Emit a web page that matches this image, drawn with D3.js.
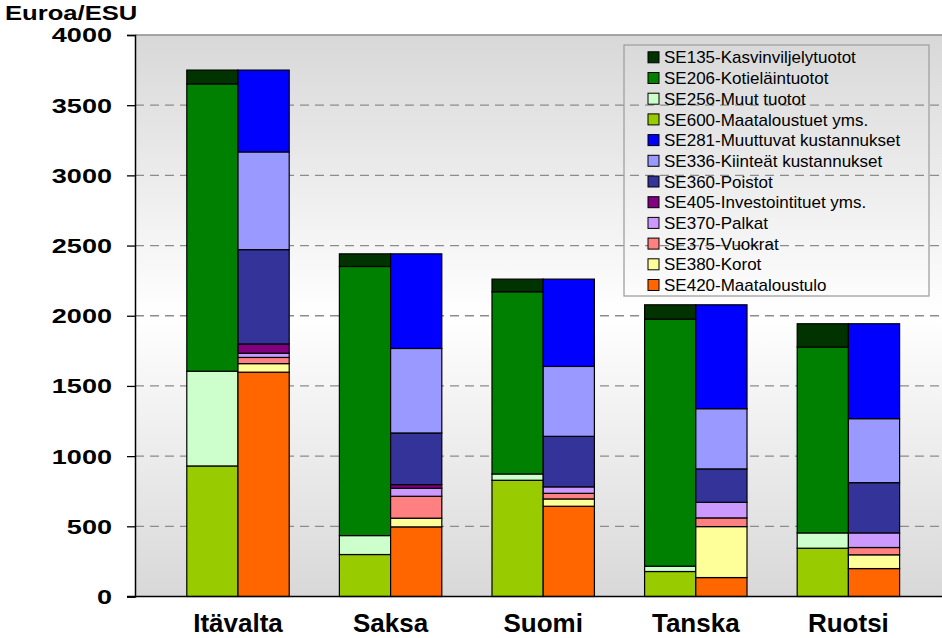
<!DOCTYPE html>
<html>
<head>
<meta charset="utf-8">
<script src="https://cdn.jsdelivr.net/npm/d3@7"></script>
<style>
  body { margin: 0; background: #fff; }
  svg { display: block; font-family: "Liberation Sans", Arial, sans-serif; }
</style>
</head>
<body>
<svg id="chart" width="942" height="638"></svg>
<script>
// categories
var countries = ['Itävalta', 'Saksa', 'Suomi', 'Tanska', 'Ruotsi'];
var yTicks = [0, 500, 1000, 1500, 2000, 2500, 3000, 3500, 4000];

// left column (tulot), bottom to top
var SE600 = [930, 299, 828, 178, 344];
var SE256 = [675, 135, 45, 38, 109];
var SE206 = [2047, 1917, 1298, 1760, 1324];
var SE135 = [98, 90, 90, 102, 166];

// right column (kulut + tulo), bottom to top
var SE420 = [1598, 496, 643, 135, 199];
var SE380 = [61, 62, 52, 363, 98];
var SE375 = [44, 156, 40, 62, 52];
var SE370 = [30, 57, 46, 111, 104];
var SE405 = [66, 26, 0, 0, 0];
var SE360 = [672, 368, 360, 238, 358];
var SE336 = [696, 602, 498, 429, 456];
var SE281 = [583, 674, 622, 740, 676];

var series = [
    {key: 'SE135', name: 'SE135-Kasvinviljelytuotot', color: '#003300', side: 'left', values: SE135},
    {key: 'SE206', name: 'SE206-Kotieläintuotot', color: '#008000', side: 'left', values: SE206},
    {key: 'SE256', name: 'SE256-Muut tuotot', color: '#CCFFCC', side: 'left', values: SE256},
    {key: 'SE600', name: 'SE600-Maataloustuet yms.', color: '#99CC00', side: 'left', values: SE600},
    {key: 'SE281', name: 'SE281-Muuttuvat kustannukset', color: '#0000FF', side: 'right', values: SE281},
    {key: 'SE336', name: 'SE336-Kiinteät kustannukset', color: '#9999FF', side: 'right', values: SE336},
    {key: 'SE360', name: 'SE360-Poistot', color: '#333399', side: 'right', values: SE360},
    {key: 'SE405', name: 'SE405-Investointituet yms.', color: '#800080', side: 'right', values: SE405},
    {key: 'SE370', name: 'SE370-Palkat', color: '#CC99FF', side: 'right', values: SE370},
    {key: 'SE375', name: 'SE375-Vuokrat', color: '#FF8080', side: 'right', values: SE375},
    {key: 'SE380', name: 'SE380-Korot', color: '#FFFF99', side: 'right', values: SE380},
    {key: 'SE420', name: 'SE420-Maataloustulo', color: '#FF6600', side: 'right', values: SE420}
];

var svg = d3.select('#chart');

var plot = {left: 135, top: 35, right: 942, bottom: 596.5};

var x = d3.scaleBand()
    .domain(countries)
    .range([161.7, 924.7]);

var xSub = d3.scaleBand()
    .domain(['left', 'right'])
    .range([0, x.bandwidth()])
    .paddingOuter(0.49);

var y = d3.scaleLinear()
    .domain([0, 4000])
    .range([plot.bottom, plot.top]);

var colorOf = {};
series.forEach(function (s) { colorOf[s.key] = s.color; });

// table rows for d3.stack
var rows = countries.map(function (c, i) {
    var row = {country: c};
    series.forEach(function (s) { row[s.key] = s.values[i]; });
    return row;
});

// legend lists top first, so stacking goes the other way
var leftKeys = series.filter(function (s) { return s.side == 'left'; }).map(function (s) { return s.key; }).reverse();
var rightKeys = series.filter(function (s) { return s.side == 'right'; }).map(function (s) { return s.key; }).reverse();

// plot background
var defs = svg.append('defs');
var grad = defs.append('linearGradient')
    .attr('id', 'bg')
    .attr('x1', 0).attr('y1', 0)
    .attr('x2', 0).attr('y2', 1);
grad.append('stop').attr('offset', '0%').attr('stop-color', '#d8d8d8');
grad.append('stop').attr('offset', '50%').attr('stop-color', '#ffffff');
grad.append('stop').attr('offset', '100%').attr('stop-color', '#d8d8d8');

svg.append('rect')
    .attr('x', plot.left)
    .attr('y', plot.top)
    .attr('width', plot.right - plot.left)
    .attr('height', plot.bottom - plot.top)
    .attr('fill', 'url(#bg)');

// gridlines
svg.append('g')
    .selectAll('line')
    .data(yTicks.filter(function (t) { return t > 0 && t < 4000; }))
    .enter().append('line')
    .attr('x1', plot.left)
    .attr('x2', plot.right)
    .attr('y1', function (d) { return y(d); })
    .attr('y2', function (d) { return y(d); })
    .attr('stroke', '#8c8c8c')
    .attr('stroke-width', 1.3)
    .attr('stroke-dasharray', '9,6');

svg.append('line')
    .attr('x1', plot.left).attr('x2', plot.right)
    .attr('y1', y(4000)).attr('y2', y(4000))
    .attr('stroke', '#8c8c8c')
    .attr('stroke-width', 1.3);

// bars
function drawStack(keys, side) {
    var stacked = d3.stack().keys(keys)(rows);

    svg.append('g')
        .selectAll('g')
        .data(stacked)
        .enter().append('g')
        .attr('fill', function (d) { return colorOf[d.key]; })
        .selectAll('rect')
        .data(function (d) { return d; })
        .enter().append('rect')
        .attr('x', function (d) { return x(d.data.country) + xSub(side); })
        .attr('width', xSub.bandwidth())
        .attr('y', function (d) { return y(d[1]); })
        .attr('height', function (d) { return y(d[0]) - y(d[1]); })
        .attr('stroke', '#000')
        .attr('stroke-width', 1.2)
        .attr('display', function (d) { return d[1] - d[0] > 0 ? null : 'none'; });
}

drawStack(leftKeys, 'left');
drawStack(rightKeys, 'right');

// y axis
var yAxis = svg.append('g')
    .attr('transform', 'translate(' + plot.left + ',0)')
    .call(d3.axisLeft(y).tickValues(yTicks).tickSize(8).tickFormat(''));
yAxis.select('.domain').attr('stroke', '#000').attr('stroke-width', 1.5);
yAxis.selectAll('.tick line').attr('stroke', '#000').attr('stroke-width', 1.3);

svg.append('g')
    .selectAll('text')
    .data(yTicks)
    .enter().append('text')
    .attr('transform', function (d) { return 'translate(112,' + y(d) + ') scale(1.32,1)'; })
    .attr('dy', '0.36em')
    .attr('text-anchor', 'end')
    .attr('font-size', 20.5)
    .attr('font-weight', 'bold')
    .attr('fill', '#000')
    .text(function (d) { return d; });

// x axis
svg.append('line')
    .attr('x1', plot.left - 8).attr('x2', plot.right)
    .attr('y1', plot.bottom).attr('y2', plot.bottom)
    .attr('stroke', '#000')
    .attr('stroke-width', 1.5);

svg.append('g')
    .selectAll('text')
    .data(countries)
    .enter().append('text')
    .attr('x', function (d) { return x(d) + x.bandwidth() / 2; })
    .attr('y', 632)
    .attr('text-anchor', 'middle')
    .attr('font-size', 26)
    .attr('font-weight', 'bold')
    .attr('fill', '#000')
    .text(function (d) { return d; });

// unit title
svg.append('text')
    .attr('transform', 'translate(5,20) scale(1.22,1)')
    .attr('font-size', 21)
    .attr('font-weight', 'bold')
    .attr('fill', '#000')
    .text('Euroa/ESU');

// legend
var legend = svg.append('g');
legend.append('rect')
    .attr('x', 624)
    .attr('y', 45)
    .attr('width', 305)
    .attr('height', 251)
    .attr('fill', 'none')
    .attr('stroke', '#a0a0a0')
    .attr('stroke-width', 1.3);

var item = legend.selectAll('g.item')
    .data(series)
    .enter().append('g')
    .attr('class', 'item')
    .attr('transform', function (d, i) { return 'translate(0,' + (57.3 + i * 20.7) + ')'; });

item.append('rect')
    .attr('x', 648)
    .attr('y', -5.5)
    .attr('width', 11)
    .attr('height', 11)
    .attr('fill', function (d) { return d.color; })
    .attr('stroke', '#000')
    .attr('stroke-width', 1);

item.append('text')
    .attr('x', 664)
    .attr('dy', '0.36em')
    .attr('font-size', 17)
    .attr('fill', '#000')
    .text(function (d) { return d.name; });
</script>
</body>
</html>
